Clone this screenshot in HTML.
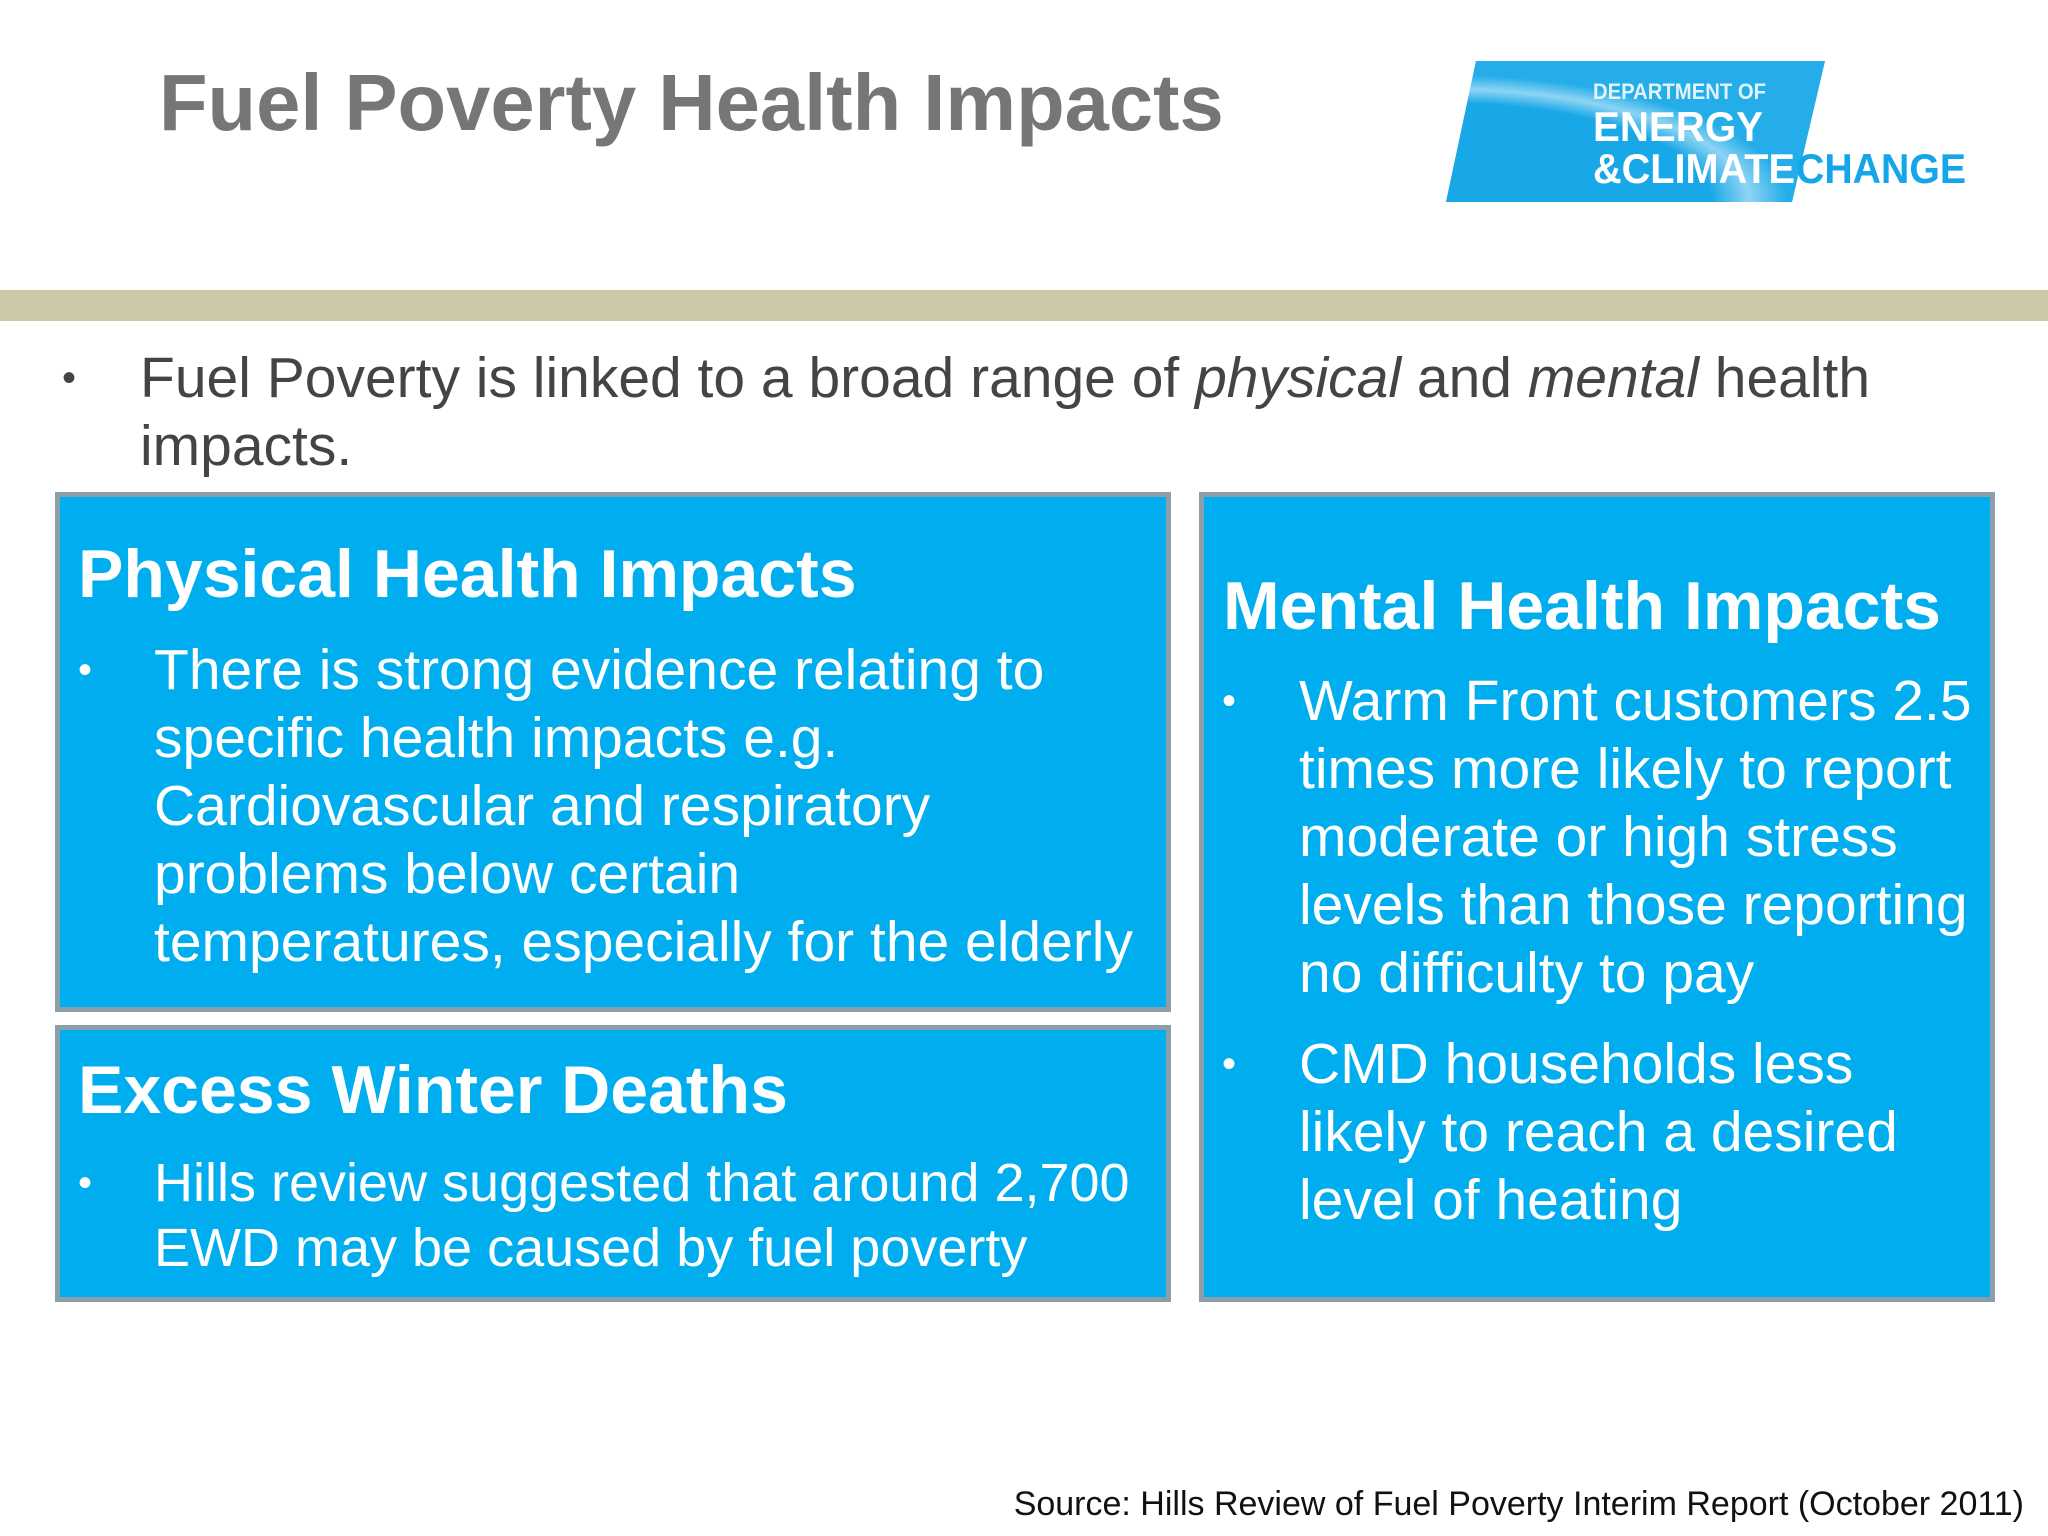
<!DOCTYPE html>
<html><head><meta charset="utf-8"><style>
body{margin:0;width:2048px;height:1536px;background:#fff;position:relative;overflow:hidden;font-family:"Liberation Sans",Arial,sans-serif}
.a{position:absolute;white-space:nowrap}
.box{position:absolute;background:#00adee;border:5px solid #8c9ea8;box-sizing:border-box}
.h{position:absolute;color:#fff;font-weight:bold;font-size:68px;line-height:68px;white-space:nowrap}
.t{position:absolute;color:#fff;font-size:57px;line-height:68px;white-space:nowrap}
.b{position:absolute;color:#fff;font-size:40px;line-height:68px}
</style></head><body>
<div class="a" style="left:159px;top:64px;font-size:79.5px;line-height:78px;font-weight:bold;color:#767676">Fuel Poverty Health Impacts</div>
<svg style="position:absolute;left:1430px;top:40px" width="618" height="180">
<defs><radialGradient id="g" cx="0" cy="1" r="1"><stop offset="0.7" stop-color="#1aa8e6"/><stop offset="0.8" stop-color="#dff3fc"/><stop offset="0.9" stop-color="#2fb2ea"/></radialGradient></defs>
<polygon points="46,21 395,21 362,162 16,162" fill="#14a6e8"/>
<polygon points="46,21 395,21 362,162 16,162" fill="url(#g)" opacity="0.6"/>
<text x="163" y="59" font-family="Liberation Sans" font-weight="bold" font-size="22" fill="#dff3fc" textLength="173" lengthAdjust="spacingAndGlyphs">DEPARTMENT OF</text>
<text x="163" y="101" font-family="Liberation Sans" font-weight="bold" font-size="42" fill="#fff" textLength="170" lengthAdjust="spacingAndGlyphs">ENERGY</text>
<text x="163" y="143" font-family="Liberation Sans" font-weight="bold" font-size="42" fill="#fff" textLength="202" lengthAdjust="spacingAndGlyphs">&amp;CLIMATE</text>
<text x="366" y="143" font-family="Liberation Sans" font-weight="bold" font-size="42" fill="#14a6e8" textLength="170" lengthAdjust="spacingAndGlyphs">CHANGE</text>
</svg>
<div style="position:absolute;left:0;top:290px;width:2048px;height:31px;background:#cdc9a6"></div>
<div class="a" style="left:62px;top:344px;font-size:40px;line-height:68px;color:#444">•</div>
<div class="a" style="left:140px;top:344px;font-size:57px;line-height:68px;color:#444">Fuel Poverty is linked to a broad range of <i>physical</i> and <i>mental</i> health<br>impacts.</div>

<div class="box" style="left:55px;top:492px;width:1116px;height:520px"></div>
<div class="h" style="left:78px;top:540px">Physical Health Impacts</div>
<div class="b" style="left:78px;top:636px">•</div>
<div class="t" style="left:154px;top:636px">There is strong evidence relating to<br>specific health impacts e.g.<br>Cardiovascular and respiratory<br>problems below certain<br>temperatures, especially for the elderly</div>

<div class="box" style="left:55px;top:1025px;width:1116px;height:277px"></div>
<div class="h" style="left:78px;top:1056px">Excess Winter Deaths</div>
<div class="b" style="left:78px;top:1151px;line-height:65px">•</div>
<div class="t" style="left:154px;top:1151px;line-height:65px;font-size:54px">Hills review suggested that around 2,700<br>EWD may be caused by fuel poverty</div>

<div class="box" style="left:1199px;top:492px;width:796px;height:810px"></div>
<div class="h" style="left:1223px;top:572px">Mental Health Impacts</div>
<div class="b" style="left:1222px;top:667px">•</div>
<div class="t" style="left:1299px;top:667px">Warm Front customers 2.5<br>times more likely to report<br>moderate or high stress<br>levels than those reporting<br>no difficulty to pay</div>
<div class="b" style="left:1222px;top:1030px">•</div>
<div class="t" style="left:1299px;top:1030px">CMD households less<br>likely to reach a desired<br>level of heating</div>

<div class="a" style="right:24px;top:1489px;font-size:34px;line-height:31px;color:#111">Source: Hills Review of Fuel Poverty Interim Report (October 2011)</div>
</body></html>
